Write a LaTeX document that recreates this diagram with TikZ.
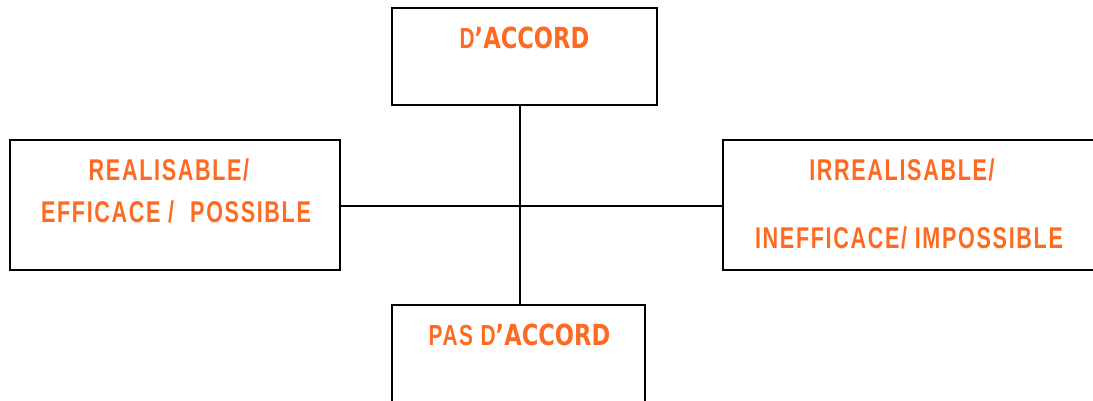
\documentclass[tikz,border=0pt]{standalone}
\usepackage{fontspec}
\setmainfont{Liberation Sans}[FakeStretch=0.72,LetterSpace=5.5]
\newfontfamily\accordfont{DejaVu Sans}[FakeStretch=0.78]
\definecolor{orangetxt}{HTML}{FF6A22}
\tikzset{
  box/.style={draw,line width=1.5pt,inner sep=0pt},
  lbl/.style={text=orangetxt,anchor=base,inner sep=0pt,font=\fontsize{30}{30}\selectfont\bfseries},
  acc/.style={lbl,font=\fontsize{29}{29}\selectfont\bfseries}
}
\newcommand{\accw}{{\accordfont\bfseries ’ACCORD}}
\begin{document}
\begin{tikzpicture}[x=1pt,y=-1pt]
\useasboundingbox (0,0) rectangle (1093,400);
% les quatre cases
\node[box,minimum width=265pt,minimum height=97pt](agree)at(524.5,56.5){};
\node[box,minimum width=330pt,minimum height=130pt](feasible)at(175,205){};
\node[box,minimum width=372pt,minimum height=130pt](unfeasible)at(909,205){};
\node[box,minimum width=253pt,minimum height=115pt](disagree)at(518.5,362.5){};
% les textes
\node[acc](agreetxt)at(524.5,48){D\accw};
\node[acc](disagreetxt)at(519.5,345){PAS D\accw};
\node[lbl](feasibleA)at(169,180){REALISABLE/};
\node[lbl](feasibleB)at(176,222){EFFICACE /\hspace{16pt}POSSIBLE};
\node[lbl](unfeasibleA)at(902,180){IRREALISABLE/};
\node[lbl](unfeasibleB)at(909,248){INEFFICACE/ IMPOSSIBLE};
% les axes
\coordinate(ctr)at(520,206);
\draw[line width=1.2pt](agree.south-|ctr)--(disagree.north-|ctr);
\draw[line width=1.2pt](feasible.east|-ctr)--(unfeasible.west|-ctr);
\end{tikzpicture}
\end{document}
